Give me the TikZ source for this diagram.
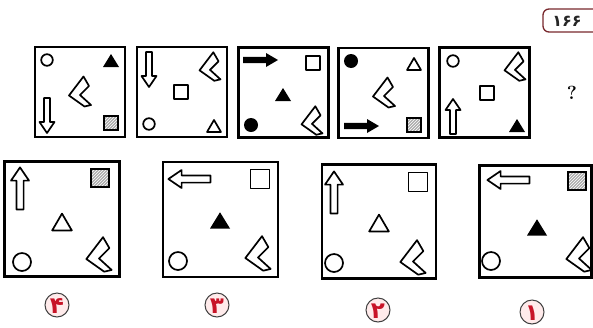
\documentclass[tikz,border=0pt]{standalone}
\usepackage{fontspec}
\usetikzlibrary{patterns}
\newfontfamily\arabicfont[Script=Arabic]{DejaVu Sans}
\definecolor{darkred}{RGB}{120,40,45}
\definecolor{labred}{RGB}{200,20,40}
\tikzset{
  frame/.style={draw, line width=2.4pt, minimum width=#1, minimum height=#1, inner sep=0pt},
  shp/.style={line width=1.7pt, line join=round},
  chev/.pic={\draw[shp] (3.5,-15.5) -- (9,-6) -- (0,3) -- (11,13) -- (4.5,14.5) -- (-11,3.5) -- cycle;},
  ocirc/.pic={\draw[shp] (0,0) circle (5.8);},
  fcirc/.pic={\fill (0,0) circle (7);},
  osq/.pic={\draw[shp] (-7,-7) rectangle (7,7);},
  hsq/.pic={\fill[gray!65] (-7,-7) rectangle (7,7);
            \path[pattern=north east lines, pattern color=white] (-7,-7) rectangle (7,7);
            \draw[line width=1.8pt] (-7,-7) rectangle (7,7);},
  otri/.pic={\draw[shp] (0,-6) -- (7,6) -- (-7,6) -- cycle;},
  ftri/.pic={\fill[line join=round] (0,-7) -- (8,6) -- (-8,6) -- cycle;},
  oarr/.pic={\draw[shp] (-17,-3) -- (7,-3) -- (7,-7.5) -- (18,0) -- (7,7.5) -- (7,3) -- (-17,3) -- cycle;},
  farr/.pic={\fill[line join=round] (-17,-3.2) -- (6,-3.2) -- (6,-7) -- (18,0) -- (6,7) -- (6,3.2) -- (-17,3.2) -- cycle;},
  lab/.style={circle, draw=black!75, line width=1pt, fill=red!8, minimum size=24pt, inner sep=0pt,
              text=labred},
  labtext/.style={text=labred, inner sep=0pt, font=\arabicfont\bfseries\fontsize{23}{23}\selectfont}
}
\begin{document}
\begin{tikzpicture}[x=1pt,y=-1pt]
\useasboundingbox (0,0) rectangle (593,327);
% page number
\draw[darkred, line width=1.3pt, rounded corners=6pt] (598,9) -- (543,9) -- (543,32) -- (598,32);
\node[font=\arabicfont\bfseries\fontsize{16}{16}\selectfont, text=black!85, inner sep=0pt] (pg) at (567,21) {۱۶۶};
\node[font=\bfseries\fontsize{19}{19}\selectfont, inner sep=0pt] (q) at (572,93) {?};

% top row frames
\node[frame=90pt] (t1) at (80,92) {};
\node[frame=90pt] (t2) at (182,92) {};
\node[frame=90pt] (t3) at (283.5,92.5) {};
\node[frame=90pt] (t4) at (383.5,93) {};
\node[frame=90pt] (t5) at (484.5,92.5) {};

% box t1
\pic at (47,60) {ocirc};
\pic at (111,61) {ftri};
\pic at (80,92) {chev};
\pic[rotate=-90] at (47,115) {oarr};
\pic at (111,123) {hsq};
% box t2
\pic[rotate=-90] at (149,69) {oarr};
\pic[scale=0.95] at (210,67) {chev};
\pic at (181,92) {osq};
\pic at (149,124) {ocirc};
\pic at (214,126) {otri};
% box t3
\pic at (260,60) {farr};
\pic at (313,63) {osq};
\pic at (283,95) {ftri};
\pic at (251,125) {fcirc};
\pic[scale=0.95] at (312,121) {chev};
% box t4
\pic at (351,61) {fcirc};
\pic at (414,64) {otri};
\pic at (384,93) {chev};
\pic at (361,126) {farr};
\pic at (414,125) {hsq};
% box t5
\pic at (453,61) {ocirc};
\pic[scale=0.95] at (515,67) {chev};
\pic at (487,93) {osq};
\pic[rotate=90] at (453,117) {oarr};
\pic at (517,126) {ftri};

% bottom row frames
\node[frame=115pt] (b4) at (62,219) {};
\node[frame=115pt] (b3) at (220.5,219.5) {};
\node[frame=114pt] (b2) at (379,221.5) {};
\node[frame=112pt] (b1) at (535.5,221.5) {};

% option 4
\pic[rotate=90, scale=1.2] at (20,189) {oarr};
\pic[scale=1.3] at (100,178) {hsq};
\pic[scale=1.4] at (62,222) {otri};
\pic[scale=1.55] at (22,262) {ocirc};
\pic[scale=1.15] at (99,255) {chev};
% option 3
\pic[rotate=180, scale=1.2] at (190,179) {oarr};
\pic[scale=1.35] at (260,179) {osq};
\pic[scale=1.25] at (220,221) {ftri};
\pic[scale=1.55] at (178,261) {ocirc};
\pic[scale=1.15] at (258,254) {chev};
% option 2
\pic[rotate=90, scale=1.2] at (334,193) {oarr};
\pic[scale=1.35] at (418,182) {osq};
\pic[scale=1.4] at (379,223) {otri};
\pic[scale=1.55] at (334,263) {ocirc};
\pic[scale=1.15] at (413,258) {chev};
% option 1
\pic[rotate=180, scale=1.2] at (509,180) {oarr};
\pic[scale=1.3] at (577,181) {hsq};
\pic[scale=1.25] at (537,228) {ftri};
\pic[scale=1.55] at (491,261) {ocirc};
\pic[scale=1.15] at (579,255) {chev};

% labels
\node[lab] (l4) at (57,305) {};
\node[lab] (l3) at (217,305) {};
\node[lab] (l2) at (378,310) {};
\node[lab] (l1) at (532,312) {};
\node[labtext] at ([yshift=-1pt]l4.center) {۴};
\node[labtext] at ([yshift=-1pt]l3.center) {۳};
\node[labtext] at ([yshift=-1pt]l2.center) {۲};
\node[labtext] at ([yshift=-1pt]l1.center) {۱};
\end{tikzpicture}
\end{document}
